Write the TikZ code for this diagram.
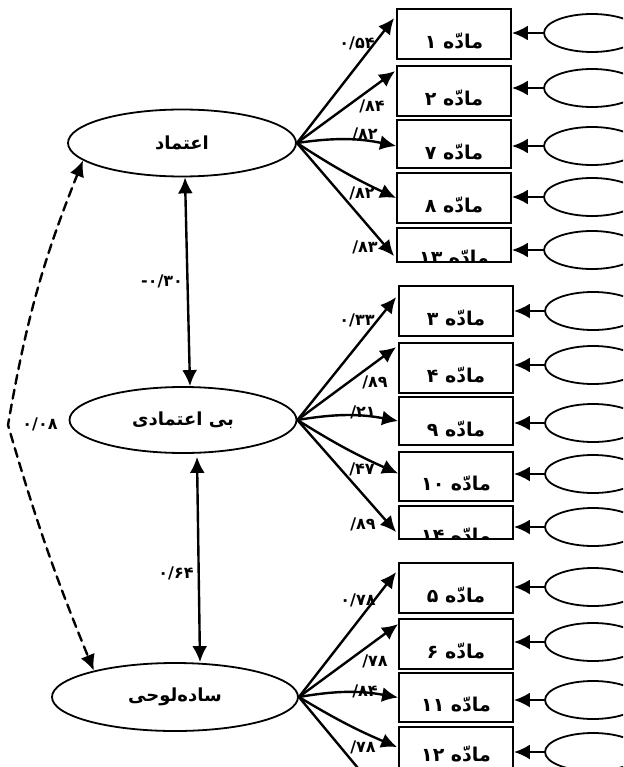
\documentclass[tikz,border=0pt]{standalone}
\usepackage{fontspec}
\newfontfamily\persianfont[Script=Arabic]{DejaVu Sans}
\newfontfamily\numfont{DejaVu Sans}
\TeXXeTstate=1
\usetikzlibrary{shapes.geometric, arrows.meta, calc}

\begin{document}
\begin{tikzpicture}[x=1pt, y=-1pt, line cap = round,
		latent/.style={draw, ellipse, line width=1.8pt, inner sep=0pt, font=\persianfont\bfseries\fontsize{18}{20}\selectfont},
		obs/.style={draw, rectangle, line width=1.8pt, minimum width=114pt, inner sep=0pt},
		itemtext/.style={inner sep=0pt, font=\persianfont\bfseries\fontsize{19}{21}\selectfont},
		err/.style={draw, ellipse, line width=1.8pt, minimum width=96pt, minimum height=38pt},
		load/.style={line width=2.4pt, -{Latex[length=16pt, width=15pt]}},
		corr/.style={line width=2.4pt, {Latex[length=16pt, width=15pt]}-{Latex[length=16pt, width=15pt]}},
		coef/.style={inner sep=0pt, font=\numfont\bfseries\fontsize{16}{18}\selectfont}]
%		\draw (0,0) grid (623,767);
		\clip (0,0) rectangle (623,767);
		
		% latent variables
		\node[latent, minimum width=228pt, minimum height=67pt] (trust) at (182,143) {\beginR اعتماد\endR};
		\node[latent, minimum width=227pt, minimum height=66pt] (distrust) at (183,420) {\beginR بی اعتمادی\endR};
		\node[latent, minimum width=246pt, minimum height=68pt] (naive) at (175,697) {\beginR ساده‌لوحی\endR};
		
		% items
		\node[obs, minimum height=50pt] (i1) at (454,34) {};
		\node[obs, minimum height=50pt] (i2) at (454,91) {};
		\node[obs, minimum height=48pt] (i7) at (454,144) {};
		\node[obs, minimum height=50pt] (i8) at (454,198) {};
		\node[obs, minimum height=34pt] (i13) at (454,245) {};
		\node[obs, minimum height=50pt] (i3) at (456,311) {};
		\node[obs, minimum height=50pt] (i4) at (456,368) {};
		\node[obs, minimum height=48pt] (i9) at (456,421) {};
		\node[obs, minimum height=49pt] (i10) at (456,476.5) {};
		\node[obs, minimum height=33pt] (i14) at (456,522.5) {};
		\node[obs, minimum height=50pt] (i5) at (456,588) {};
		\node[obs, minimum height=50pt] (i6) at (456,644) {};
		\node[obs, minimum height=49pt] (i11) at (456,697.5) {};
		\node[obs, minimum height=50pt] (i12) at (456,752) {};
		\coordinate (i15) at (382,797);
		
		\node[itemtext] (t1) at ($(i1)+(0,7)$) {\beginR مادّه ۱\endR};
		\node[itemtext] (t2) at ($(i2)+(0,7)$) {\beginR مادّه ۲\endR};
		\node[itemtext] (t7) at ($(i7)+(0,8)$) {\beginR مادّه ۷\endR};
		\node[itemtext] (t8) at ($(i8)+(0,7)$) {\beginR مادّه ۸\endR};
		\node[itemtext] (t3) at ($(i3)+(0,7)$) {\beginR مادّه ۳\endR};
		\node[itemtext] (t4) at ($(i4)+(0,7)$) {\beginR مادّه ۴\endR};
		\node[itemtext] (t9) at ($(i9)+(0,8)$) {\beginR مادّه ۹\endR};
		\node[itemtext] (t10) at ($(i10)+(0,7)$) {\beginR مادّه \beginL۱۰\endL\endR};
		\node[itemtext] (t5) at ($(i5)+(0,7)$) {\beginR مادّه ۵\endR};
		\node[itemtext] (t6) at ($(i6)+(0,7)$) {\beginR مادّه ۶\endR};
		\node[itemtext] (t11) at ($(i11)+(0,7)$) {\beginR مادّه \beginL۱۱\endL\endR};
		\node[itemtext] (t12) at ($(i12)+(0,2)$) {\beginR مادّه \beginL۱۲\endL\endR};
		\begin{scope}
			\clip (i13.south west) rectangle (i13.north east);
			\node[itemtext] (t13) at ($(i13.north)+(0,30)$) {\beginR مادّه \beginL۱۳\endL\endR};
		\end{scope}
		\begin{scope}
			\clip (i14.south west) rectangle (i14.north east);
			\node[itemtext] (t14) at ($(i14.north)+(0,30)$) {\beginR مادّه \beginL۱۴\endL\endR};
		\end{scope}
		
		% error terms
		\node[err] (e1) at (592,33) {};
		\node[err] (e2) at (592,88) {};
		\node[err] (e7) at (592,146) {};
		\node[err] (e8) at (592,197) {};
		\node[err] (e13) at (592,250) {};
		\node[err] (e3) at (593,311) {};
		\node[err] (e4) at (593,365) {};
		\node[err] (e9) at (593,423) {};
		\node[err] (e10) at (593,474) {};
		\node[err] (e14) at (593,527) {};
		\node[err] (e5) at (593,587) {};
		\node[err] (e6) at (593,642) {};
		\node[err] (e11) at (593,700) {};
		\node[err] (e12) at (593,752) {};
		
		\foreach \k in {1,2,7,8,13,3,4,9,10,14,5,6,11,12}
			\draw[load] (e\k.west) -- (e\k.west -| i\k.east);
		
		% loadings
		\draw[load] (trust.east) -- ($(i1.north west)+(-2,10)$);
		\draw[load] (trust.east) -- ($(i2.north west)+(-1,6)$);
		\draw[load] (trust.east) to[bend left=10] ($(i7.west)+(0,2)$);
		\draw[load] (trust.east) to[bend right=4] (i8.west);
		\draw[load] (trust.east) -- ($(i13.north west)+(-2,29)$);
		
		\draw[load] (distrust.east) -- ($(i3.north west)+(-2,12)$);
		\draw[load] (distrust.east) -- ($(i4.north west)+(-2,5)$);
		\draw[load] (distrust.east) to[bend left=10] (i9.west);
		\draw[load] (distrust.east) to[bend right=4] ($(i10.west)+(0,-3)$);
		\draw[load] (distrust.east) -- ($(i14.north west)+(-2,27)$);
		
		\draw[load] (naive.east) -- ($(i5.north west)+(-2,10)$);
		\draw[load] (naive.east) -- ($(i6.north west)+(0,6)$);
		\draw[load] (naive.east) to[bend left=10] (i11.west);
		\draw[load] (naive.east) to[bend right=4] ($(i12.north west)+(-1,21)$);
		\draw[load] (naive.east) -- (i15);
		
		% correlations
		\coordinate (kink) at (8,425);
		\draw[corr] ($(trust.south)+(3,0)$) -- ($(distrust.north)+(7,0)$);
		\draw[corr] ($(distrust.south)+(14,3)$) -- ($(naive.north)+(25,0)$);
		\draw[corr, dash pattern=on 9pt off 6pt] (trust.190) to[bend right=6] (kink) to[bend right=3] (naive.162);
		
		% coefficients
		\node[coef] (c1) at (357,43) {۰/۵۴};
		\node[coef] (c2) at (372,106) {/۸۴};
		\node[coef] (c7) at (365,134) {/۸۲};
		\node[coef] (c8) at (362,193) {/۸۲};
		\node[coef] (c13) at (365,247) {/۸۳};
		\node[coef] (c3) at (357,320) {۰/۳۳};
		\node[coef] (c4) at (375,382) {/۸۹};
		\node[coef] (c9) at (363,412) {/۲۱};
		\node[coef] (c10) at (362,469) {/۴۷};
		\node[coef] (c14) at (363,524) {/۸۹};
		\node[coef] (c5) at (358,600) {۰/۷۸};
		\node[coef] (c6) at (375,661) {/۷۸};
		\node[coef] (c11) at (365,691) {/۸۴};
		\node[coef] (c12) at (363,747) {/۷۸};
		\node[coef] (r1) at (162,281) {-۰/۳۰};
		\node[coef] (r2) at (176,573) {۰/۶۴};
		\node[coef] (r3) at (40,424) {۰/۰۸};
	\end{tikzpicture}
\end{document}
